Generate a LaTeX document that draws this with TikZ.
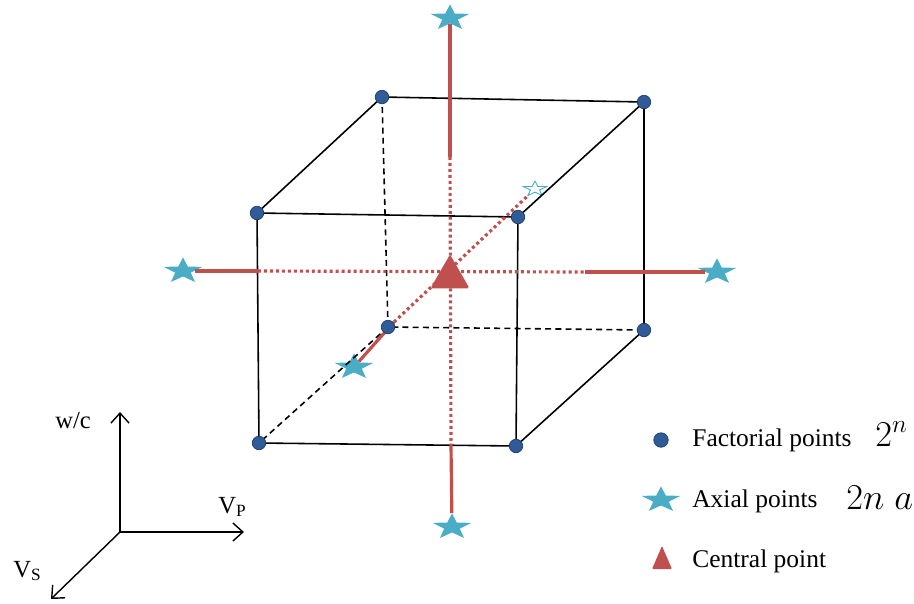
\documentclass[tikz,border=0pt]{standalone}
\usepackage{fontspec}
\setmainfont{Liberation Serif}
\usetikzlibrary{shapes.geometric, arrows.meta, positioning}

\definecolor{axred}{HTML}{C0504D}
\definecolor{starcyan}{HTML}{4BACC6}
\definecolor{dotblue}{HTML}{2F5B96}

\begin{document}
\begin{tikzpicture}[
    x=0.02cm, y=-0.02cm,
    edge/.style={line width=0.9pt, black},
    hidden/.style={edge, dash pattern=on 3.4pt off 2.4pt},
    redsolid/.style={line width=1.8pt, axred},
    reddot/.style={line width=1.8pt, axred, dash pattern=on 1.7pt off 1.7pt},
    fdot/.style={circle, fill=dotblue, draw=dotblue!70!black, line width=0.4pt, inner sep=0pt, minimum size=0.27cm},
    axstar/.style={star, star points=5, star point ratio=2.5, fill=starcyan, inner sep=0pt, minimum size=0.82cm, yscale=0.66, transform shape},
    openstar/.style={axstar, fill=white, draw=starcyan, line width=0.5pt, minimum size=0.48cm},
    centri/.style={regular polygon, regular polygon sides=3, fill=axred, inner sep=0pt, minimum size=0.9cm, rounded corners=1pt},
    axis/.style={line width=0.8pt, -{Straight Barb[length=2mm, width=3.6mm]}},
    lbl/.style={inner sep=0pt, anchor=base west, font=\fontsize{14}{16}\selectfont},
    legtext/.style={inner sep=0pt, anchor=base west, font=\fontsize{14.5}{17}\selectfont},
    legmath/.style={inner sep=0pt, anchor=base west, font=\fontsize{22}{25}\selectfont}
]
\useasboundingbox (0,0) rectangle (914,603);

% cube corners
\coordinate (ftl) at (257,213);
\coordinate (ftr) at (518,217);
\coordinate (fbl) at (259,443);
\coordinate (fbr) at (516,446);
\coordinate (btl) at (382,97);
\coordinate (btr) at (644,102);
\coordinate (bbl) at (388,327);
\coordinate (bbr) at (644,330);

% points where the red axes change style
\coordinate (vt) at (450,157);
\coordinate (vb) at (451,445);
\coordinate (hl) at (258,271);
\coordinate (hr) at (585,272);
\coordinate (dg) at (394,322);

% axial points
\node[axstar] (sT) at (450,18) {};
\node[axstar] (sB) at (452,527) {};
\node[axstar] (sL) at (183,271) {};
\node[axstar] (sR) at (717,272) {};
\node[axstar] (sD) at (354,367) {};
\node[openstar] (sO) at (535,189) {};

% hidden edges
\draw[hidden] (btl) -- (bbl) -- (bbr);
\draw[hidden] (bbl) -- (fbl);

% visible edges
\draw[edge] (ftl) -- (ftr) -- (fbr) -- (fbl) -- cycle;
\draw[edge] (ftl) -- (btl) -- (btr) -- (ftr);
\draw[edge] (btr) -- (bbr) -- (fbr);

% red axes
\draw[redsolid] (sT) -- (vt);
\draw[reddot] (vt) -- (vb);
\draw[redsolid] (vb) -- (sB);
\draw[redsolid] (sL) -- (hl);
\draw[reddot] (hl) -- (hr);
\draw[redsolid] (hr) -- (sR);
\draw[redsolid] (sD) -- (dg);
\draw[reddot] (dg) -- (sO);

% factorial points
\foreach \c in {ftl, ftr, fbl, fbr, btl, btr, bbl, bbr}
    \node[fdot] at (\c) {};

% central point
\node[centri] (ctr) at (450,277) {};

% coordinate axes
\coordinate (o) at (120,532);
\coordinate (wc) at (120,412);
\coordinate (vp) at (244,532);
\coordinate (vs) at (51,599);
\draw[axis] (o) -- (wc);
\draw[axis] (o) -- (vp);
\draw[axis] (o) -- (vs);
\node[lbl] (lwc) at (55,428) {w/c};
\node[lbl] (lvp) at (218,513) {V\textsubscript{P}};
\node[lbl] (lvs) at (13,577) {V\textsubscript{S}};

% legend
\node[fdot, minimum size=0.29cm] (lgf) at (661,440) {};
\node[axstar] (lga) at (661,500) {};
\coordinate (lgc) at (662,558);
\fill[axred, rounded corners=0.6pt] (lgc) ++(0,-12) -- ++(10,23) -- ++(-20,0) -- cycle;
\node[legtext] (tf) at (692,446) {Factorial points};
\node[legtext] (ta) at (692,507) {Axial points};
\node[legtext] (tc) at (692,567) {Central point};
\node[legmath] (mf) at (875,446) {$2^{n}$};
\node[legmath] (ma) at (846,509) {$2n\;a$};
\end{tikzpicture}
\end{document}
